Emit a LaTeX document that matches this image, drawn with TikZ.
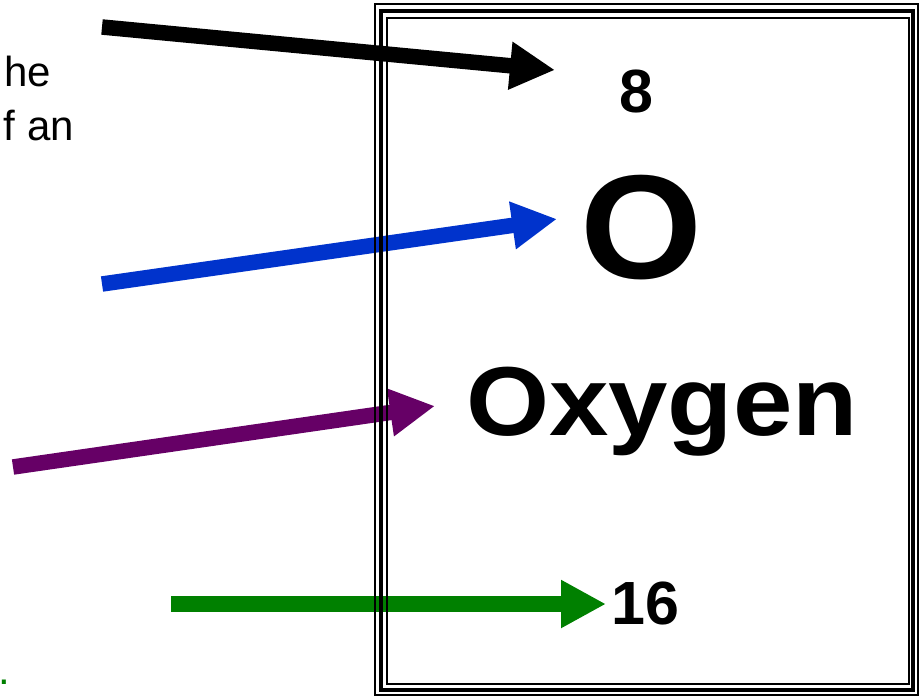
\documentclass[tikz,border=0pt]{standalone}
\usepackage{fontspec}
\setmainfont{Liberation Sans}
\usepackage{tikz}
\usetikzlibrary{arrows.meta,positioning}
\definecolor{clNumber}{HTML}{000000}
\definecolor{clSymbol}{HTML}{0033CC}
\definecolor{clName}{HTML}{660066}
\definecolor{clMass}{HTML}{008000}
\tikzset{
  pointer/.style={line width=15.5pt, -{Triangle[length=45pt, width=45pt]}},
  frameline/.style={draw=black, line width=#1},
  big/.style={inner sep=0pt, anchor=base, font=\bfseries\fontsize{#1}{#1}\selectfont},
  side/.style={inner sep=0pt, anchor=base east, font=\fontsize{42}{42}\selectfont},
}

\begin{document}
\begin{tikzpicture}[x=1pt, y=-1pt]
  \useasboundingbox (0,0) rectangle (920,697);
  % element card contents
  \node[big=61] (number) at (636,112) {8};
  \node[big=148, xscale=1.06] (symbol) at (642,278) {O};
  \node[big=98, xscale=1.09] (name) at (662,435) {Oxygen};
  \node[big=61] (mass) at (645,624) {16};
  % cut-off notes on the left
  \node[side] (noteA) at (51,86) {he};
  \node[side] (noteB) at (74,140) {f an};
  \node[side, anchor=base west, text=clMass] (noteC) at (-2,684) {.};
  % arrows
  \coordinate (numTail) at (102,27);   \coordinate (numTip) at (555,70);
  \coordinate (symTail) at (102,284);  \coordinate (symTip) at (557,219);
  \coordinate (nameTail) at (13,467);  \coordinate (nameTip) at (435,406);
  \coordinate (massTail) at (171,604); \coordinate (massTip) at (606,604);
  \draw[pointer, clNumber] (numTail) -- (numTip);
  \draw[pointer, clSymbol] (symTail) -- (symTip);
  \draw[pointer, clName] (nameTail) -- (nameTip);
  \draw[pointer, clMass] (massTail) -- (massTip);
  % triple frame
  \draw[frameline=2pt] (375,4) rectangle (918,695);
  \draw[frameline=4pt] (380.5,11) rectangle (913,690);
  \draw[frameline=2pt] (387,18) rectangle (908.5,684);
\end{tikzpicture}
\end{document}
